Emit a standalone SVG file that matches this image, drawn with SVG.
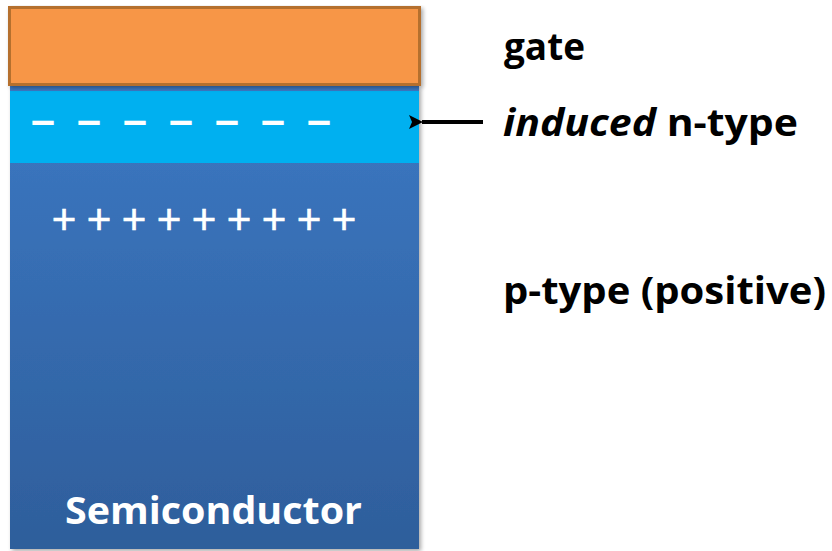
<svg xmlns="http://www.w3.org/2000/svg" width="832" height="551" viewBox="0 0 832 551">
  <defs>
    <linearGradient id="semiGrad" x1="0" y1="0" x2="0" y2="1">
      <stop offset="0" stop-color="#3C78C3"/>
      <stop offset="1" stop-color="#2E5E9B"/>
    </linearGradient>
    <marker id="arrowHead" viewBox="0 0 14 14" refX="1" refY="7" markerWidth="14" markerHeight="14" orient="auto-start-reverse" markerUnits="userSpaceOnUse">
      <path d="M0,7 L14,0 L11,7 L14,14 Z" fill="#000"/>
    </marker>
    <filter id="shadow" x="-5%" y="-5%" width="115%" height="115%">
      <feGaussianBlur in="SourceAlpha" stdDeviation="2"/>
      <feOffset dx="2" dy="2" result="b"/>
      <feComponentTransfer><feFuncA type="linear" slope="0.35"/></feComponentTransfer>
      <feMerge><feMergeNode/><feMergeNode in="SourceGraphic"/></feMerge>
    </filter>
  </defs>
  <style>
    .label { font-family: "Open Sans", "Liberation Sans", sans-serif; font-weight: bold; font-size: 38px; fill: #000; }
    .white { font-family: "Open Sans", "Liberation Sans", sans-serif; font-weight: bold; font-size: 38px; fill: #fff; }
    .sign { font-family: "Liberation Sans", sans-serif; fill: #fff; }
  </style>

  <g id="semiconductor">
    <rect x="10" y="86" width="409" height="463" fill="url(#semiGrad)" filter="url(#shadow)"/>
    <text class="white" x="65" y="524" textLength="297" lengthAdjust="spacingAndGlyphs">Semiconductor</text>
  </g>

  <g id="induced-layer">
    <rect x="10" y="91" width="409" height="72" fill="#00B0F0"/>
    <text class="sign" font-size="43" font-weight="bold" text-anchor="middle" y="134" x="43 89 135 181 227 273 319">–––––––</text>
  </g>

  <g id="positive-charges">
    <text class="sign" font-size="42" text-anchor="middle" y="234" x="64 99 134 169 204 239 274 309 344" stroke="#fff" stroke-width="0.6">+++++++++</text>
  </g>

  <g id="gate">
    <rect x="9.5" y="7.5" width="410" height="77" fill="#F79646" stroke="#B5702F" stroke-width="3" filter="url(#shadow)"/>
  </g>

  <g id="labels">
    <text class="label" x="504" y="60" textLength="81" lengthAdjust="spacingAndGlyphs">gate</text>
    <text class="label" x="503" y="136" textLength="295" lengthAdjust="spacingAndGlyphs"><tspan font-style="italic">induced</tspan> n-type</text>
    <text class="label" x="503" y="304" textLength="323" lengthAdjust="spacingAndGlyphs">p-type (positive)</text>
  </g>

  <g id="connectors">
    <line x1="483" y1="122" x2="422" y2="122" stroke="#000" stroke-width="4" marker-end="url(#arrowHead)"/>
  </g>
</svg>
